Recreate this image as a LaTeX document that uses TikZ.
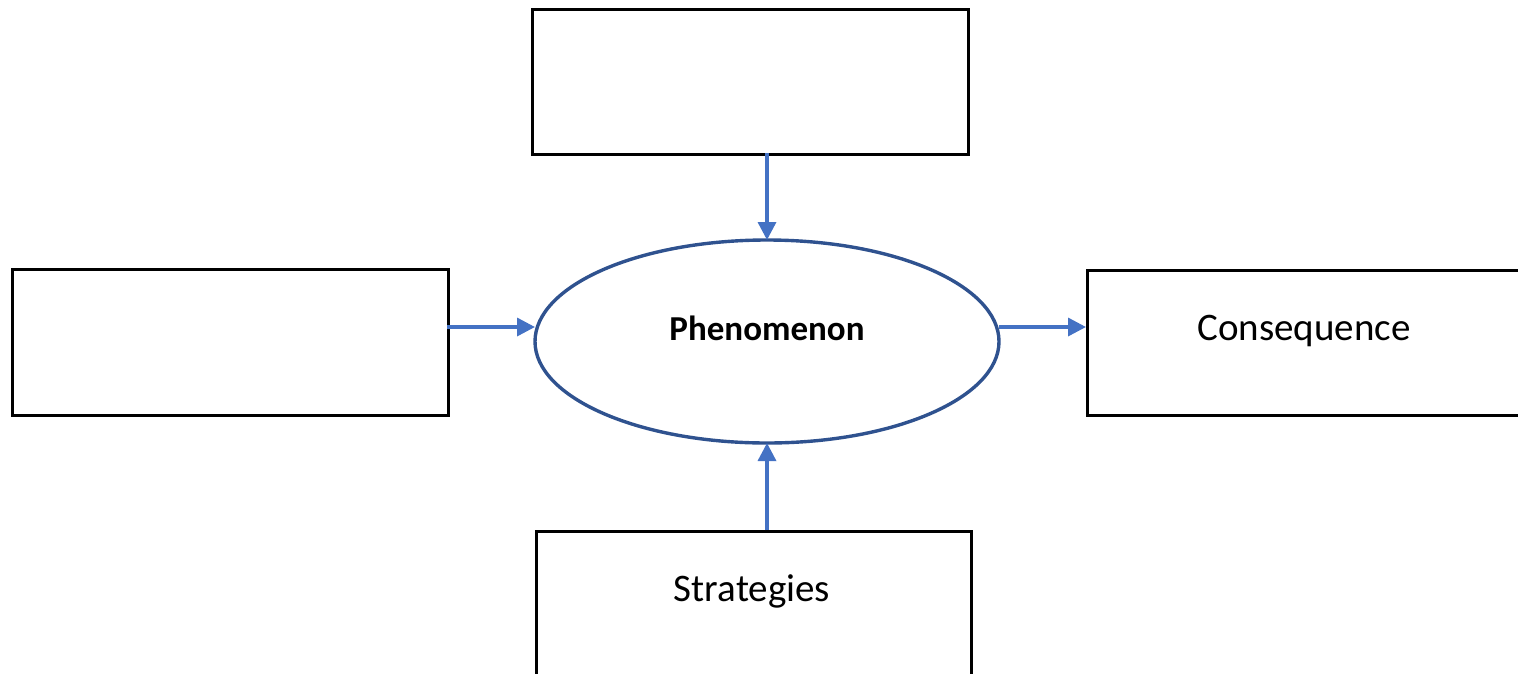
\documentclass[tikz,border=0pt]{standalone}
\usepackage{fontspec}
\setmainfont{Carlito}
\usetikzlibrary{arrows.meta,shapes.geometric}
\definecolor{arrowblue}{HTML}{4472C4}
\definecolor{ellblue}{HTML}{2F528F}
\tikzset{
  box/.style={draw=black,line width=3pt,fill=white,inner sep=0pt,anchor=north west},
  ell/.style={draw=ellblue,line width=3.4pt,ellipse,minimum width=464pt,minimum height=203pt,inner sep=0pt},
  conn/.style={draw=arrowblue,line width=3.4pt,-{Triangle[length=18pt,width=18pt]}},
  lbl/.style={font=\fontsize{39pt}{44pt}\selectfont}
}
\begin{document}
\begin{tikzpicture}[x=1pt,y=-1pt]
\useasboundingbox (0,0) rectangle (1518,673);
\clip (0,0) rectangle (1518,673);
\node[box,minimum width=436pt,minimum height=145pt] (top) at (531,8) {};
\node[box,minimum width=436pt,minimum height=146pt] (left) at (11,268) {};
\node[box,minimum width=460pt,minimum height=145pt] (right) at (1086,269) {};
\node[box,minimum width=435pt,minimum height=160pt] (bottom) at (535,530) {};
\node[ell] (phen) at (767,341.5) {};
\node[lbl,font=\fontsize{35pt}{40pt}\bfseries\selectfont] (phentext) at (767,328) {Phenomenon};
\node[lbl] (cons) at (1304,331) {Consequence};
\node[lbl] (strat) at (752,591) {Strategies};
\coordinate (topb) at (767,153);
\coordinate (botb) at (767,530);
\coordinate (lefta) at (447,327);
\coordinate (righta) at (1086,327);
\coordinate (ellt) at (767,240);
\coordinate (ellb) at (767,443);
\coordinate (elll) at (535,327);
\coordinate (ellr) at (999,327);
\draw[conn] (topb) -- (ellt);
\draw[conn] (botb) -- (ellb);
\draw[conn] (lefta) -- (elll);
\draw[conn] (ellr) -- (righta);
\end{tikzpicture}
\end{document}
